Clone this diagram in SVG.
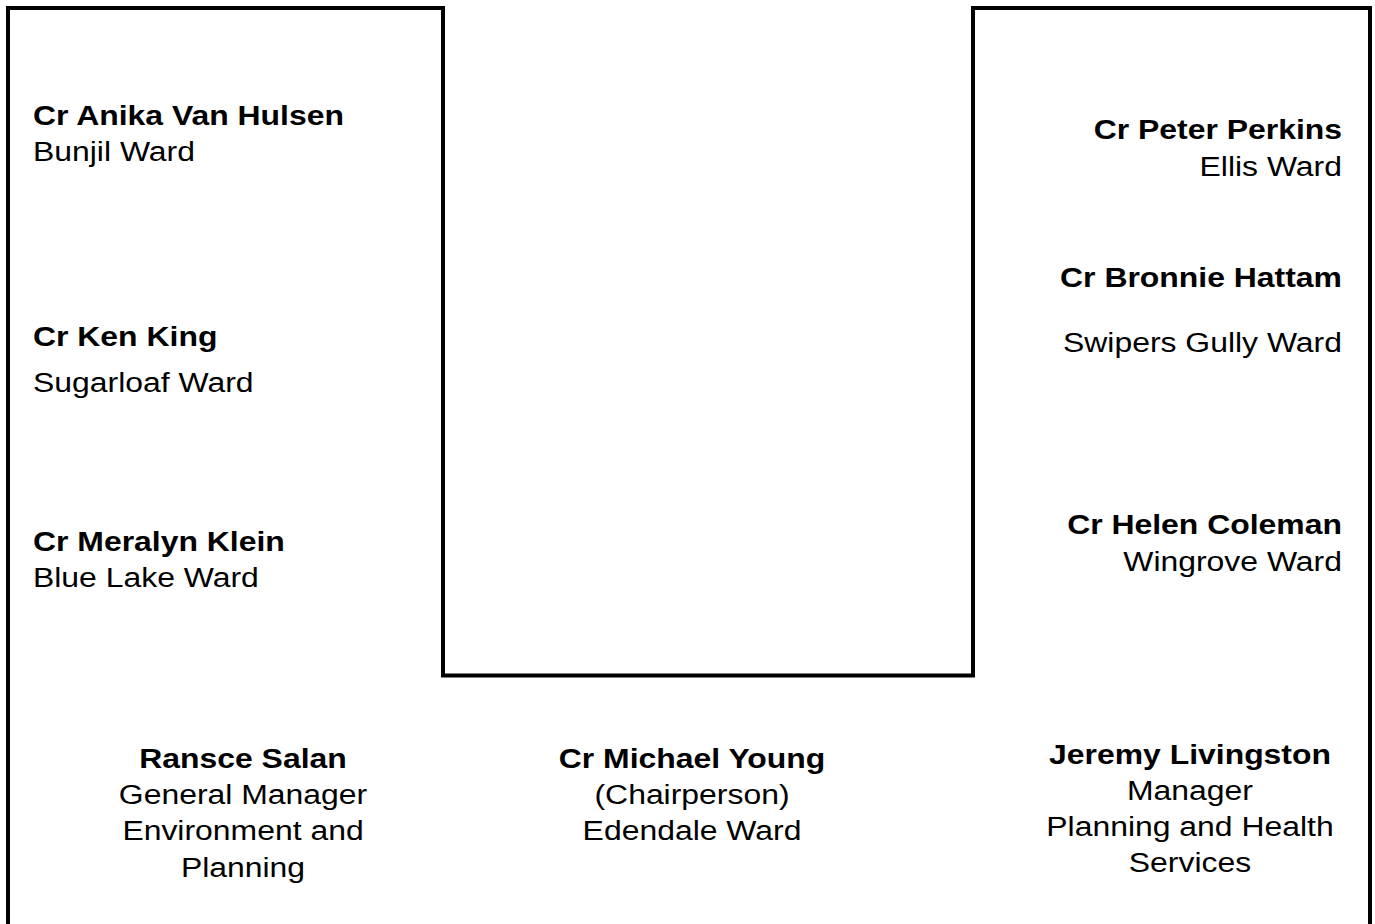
<svg xmlns="http://www.w3.org/2000/svg" width="1375" height="924" viewBox="0 0 1375 924">
<style>
text{font-family:"Liberation Sans",Arial,sans-serif;font-size:28px;fill:#000}
.b{font-weight:bold}
.r{text-anchor:end}
.c{text-anchor:middle}
.frame{fill:none;stroke:#000;stroke-width:4;stroke-linejoin:miter;stroke-linecap:square}
</style>
<rect width="1375" height="924" fill="#fff"/>
<g id="connectors">
<path class="frame" d="M8,926 V8 H443 V675.5 H973 V8 H1370 V926"/>
</g>
<g id="node-vanhulsen"><text class="b" transform="translate(33,125) scale(1.14,1)">Cr Anika Van Hulsen</text><text transform="translate(33,161) scale(1.14,1)">Bunjil Ward</text></g>
<g id="node-king"><text class="b" transform="translate(33,346) scale(1.14,1)">Cr Ken King</text><text transform="translate(33,392) scale(1.14,1)">Sugarloaf Ward</text></g>
<g id="node-klein"><text class="b" transform="translate(33,551) scale(1.14,1)">Cr Meralyn Klein</text><text transform="translate(33,587) scale(1.14,1)">Blue Lake Ward</text></g>
<g id="node-perkins"><text class="b r" transform="translate(1342,139) scale(1.14,1)">Cr Peter Perkins</text><text class="r" transform="translate(1342,176) scale(1.14,1)">Ellis Ward</text></g>
<g id="node-hattam"><text class="b r" transform="translate(1342,287) scale(1.14,1)">Cr Bronnie Hattam</text><text class="r" transform="translate(1342,352) scale(1.14,1)">Swipers Gully Ward</text></g>
<g id="node-coleman"><text class="b r" transform="translate(1342,534) scale(1.14,1)">Cr Helen Coleman</text><text class="r" transform="translate(1342,571) scale(1.14,1)">Wingrove Ward</text></g>
<g id="node-salan"><text class="b c" transform="translate(243,768) scale(1.14,1)">Ransce Salan</text><text class="c" transform="translate(243,804) scale(1.14,1)">General Manager</text><text class="c" transform="translate(243,840) scale(1.14,1)">Environment and</text><text class="c" transform="translate(243,877) scale(1.14,1)">Planning</text></g>
<g id="node-young"><text class="b c" transform="translate(692,768) scale(1.14,1)">Cr Michael Young</text><text class="c" transform="translate(692,804) scale(1.14,1)">(Chairperson)</text><text class="c" transform="translate(692,840) scale(1.14,1)">Edendale Ward</text></g>
<g id="node-livingston"><text class="b c" transform="translate(1190,764) scale(1.14,1)">Jeremy Livingston</text><text class="c" transform="translate(1190,800) scale(1.14,1)">Manager</text><text class="c" transform="translate(1190,836) scale(1.14,1)">Planning and Health</text><text class="c" transform="translate(1190,872) scale(1.14,1)">Services</text></g>
</svg>
